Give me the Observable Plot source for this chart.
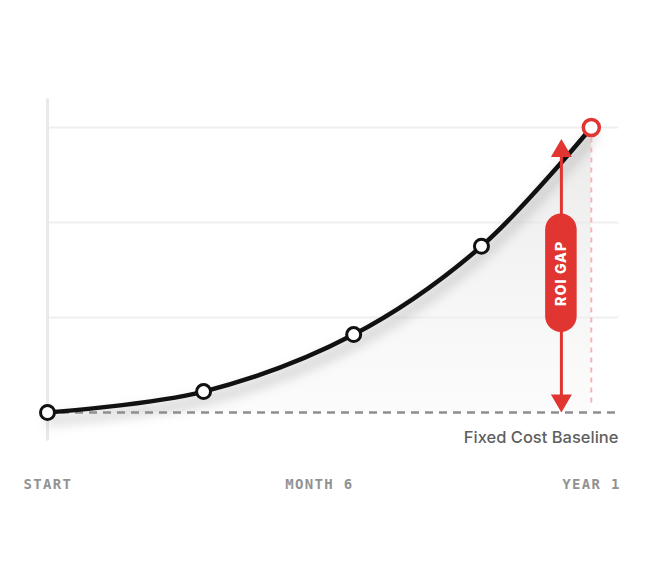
<!DOCTYPE html>
<html><head><meta charset="utf-8">
<script src="https://cdn.jsdelivr.net/npm/d3@7"></script>
<script src="https://cdn.jsdelivr.net/npm/@observablehq/plot@0.6"></script>
<style>body{margin:0;background:#fff}</style>
</head><body><div id="chart"></div>
<script>
// Data
const stages = [0, 28.7, 56.3, 79.8, 100];     // progress along the first year (%)
const values = [0, 22, 82, 175, 300];           // cumulative return (relative units)
const gridValues = [100, 200, 300];
const tickLabels = ["START", "MONTH 6", "YEAR 1"];
const tickPositions = [-4.4, 50, 105.4];
const baselineLabel = "Fixed Cost Baseline";
const gapLabel = "ROI GAP";

const data = stages.map((t, i) => ({t, v: values[i]}));

const RED = "#e03530";
const arrowX = 94.5;
const upHead = {draw(ctx){ ctx.moveTo(0,-9); ctx.lineTo(10.5,9); ctx.lineTo(-10.5,9); ctx.closePath(); }};
const downHead = {draw(ctx){ ctx.moveTo(0,9); ctx.lineTo(10.5,-9); ctx.lineTo(-10.5,-9); ctx.closePath(); }};
const tickStyle = {y: -75.8, fontSize: 14, fontWeight: "bold", fill: "#929292", fontFamily: "'DejaVu Sans Mono', monospace"};

const chart = Plot.plot({
  width: 647, height: 588,
  marginLeft: 47, marginRight: 29, marginTop: 98.5, marginBottom: 147.5,
  x: {domain: [0, 105], axis: null},
  y: {domain: [-30, 330], axis: null},
  style: {background: "#fff", overflow: "visible"},
  marks: [
    Plot.ruleY(gridValues, {x1: 0, x2: 105, stroke: "#efeff2", strokeWidth: 2}),
    Plot.ruleX([0], {y1: -30, y2: 330, stroke: "#e8e8ee", strokeWidth: 3}),
    Plot.areaY(data, {x: "t", y: "v", curve: "catmull-rom", fill: "url(#areaGrad)"}),
    Plot.line(data, {x: "t", y: "v", curve: "catmull-rom", stroke: "#000", strokeOpacity: 0.18, strokeWidth: 8, dy: 8, dx: 2}),
    Plot.ruleY([0], {x1: 0, x2: 105, stroke: "#8e8e8e", strokeWidth: 2.5, strokeDasharray: "8,6"}),
    Plot.ruleX([100], {y1: 10, y2: 291, stroke: "#f5b5b5", strokeWidth: 2, strokeDasharray: "5,5"}),
    Plot.text([baselineLabel], {x: 105, y: -26.5, text: d => d, textAnchor: "end", fontSize: 16.5, fontWeight: 500, fill: "#5f5f5f", fontFamily: "Inter, 'Noto Sans', sans-serif"}),
    Plot.text([tickLabels[0]], {...tickStyle, x: tickPositions[0], text: d => d, textAnchor: "start"}),
    Plot.text([tickLabels[1]], {...tickStyle, x: tickPositions[1], text: d => d, textAnchor: "middle"}),
    Plot.text([tickLabels[2]], {...tickStyle, x: tickPositions[2], text: d => d, textAnchor: "end"}),
    Plot.line(data, {x: "t", y: "v", curve: "catmull-rom", stroke: "#111", strokeWidth: 4.5}),
    Plot.ruleX([arrowX], {y1: 8, y2: 280, stroke: RED, strokeWidth: 3}),
    Plot.dot([{x: arrowX, y: 278.5}], {x: "x", y: "y", symbol: upHead, r: 10, fill: RED, stroke: "none"}),
    Plot.dot([{x: arrowX, y: 9.5}], {x: "x", y: "y", symbol: downHead, r: 10, fill: RED, stroke: "none"}),
    Plot.rect([{x1: 91.6, x2: 97.4, y1: 84.2, y2: 209}], {x1: "x1", x2: "x2", y1: "y1", y2: "y2", fill: RED, rx: 16, inset: 0}),
    Plot.text([gapLabel], {x: arrowX, y: 146.5, text: d => d, rotate: -90, fill: "#fff", fontSize: 14, fontWeight: 800, fontFamily: "Inter, 'Noto Sans', sans-serif"}),
    Plot.dot(data.slice(0, -1), {x: "t", y: "v", r: 7, fill: "#fff", stroke: "#111", strokeWidth: 3}),
    Plot.dot(data.slice(-1), {x: "t", y: "v", r: 8, fill: "#fff", stroke: RED, strokeWidth: 3.5})
  ]
});

chart.insertAdjacentHTML("afterbegin", `<defs>
  <linearGradient id="areaGrad" x1="0" y1="0" x2="0" y2="1">
    <stop offset="0" stop-color="#e2e2e2" stop-opacity="0.75"/>
    <stop offset="1" stop-color="#f6f6f6" stop-opacity="0.4"/>
  </linearGradient>
  <filter id="blurShadow" x="-10%" y="-20%" width="120%" height="140%"><feGaussianBlur stdDeviation="6"/></filter>
</defs>`);
const lines = chart.querySelectorAll('g[aria-label="line"]');
if (lines.length) lines[0].setAttribute("filter", "url(#blurShadow)");
const texts = chart.querySelectorAll('g[aria-label="text"]');
if (texts.length >= 5) {
  for (let i = 1; i <= 3; i++) texts[i].setAttribute("letter-spacing", "1.3");
  texts[4].setAttribute("letter-spacing", "1.2");
}
document.getElementById("chart").append(chart);
</script>
</body></html>
